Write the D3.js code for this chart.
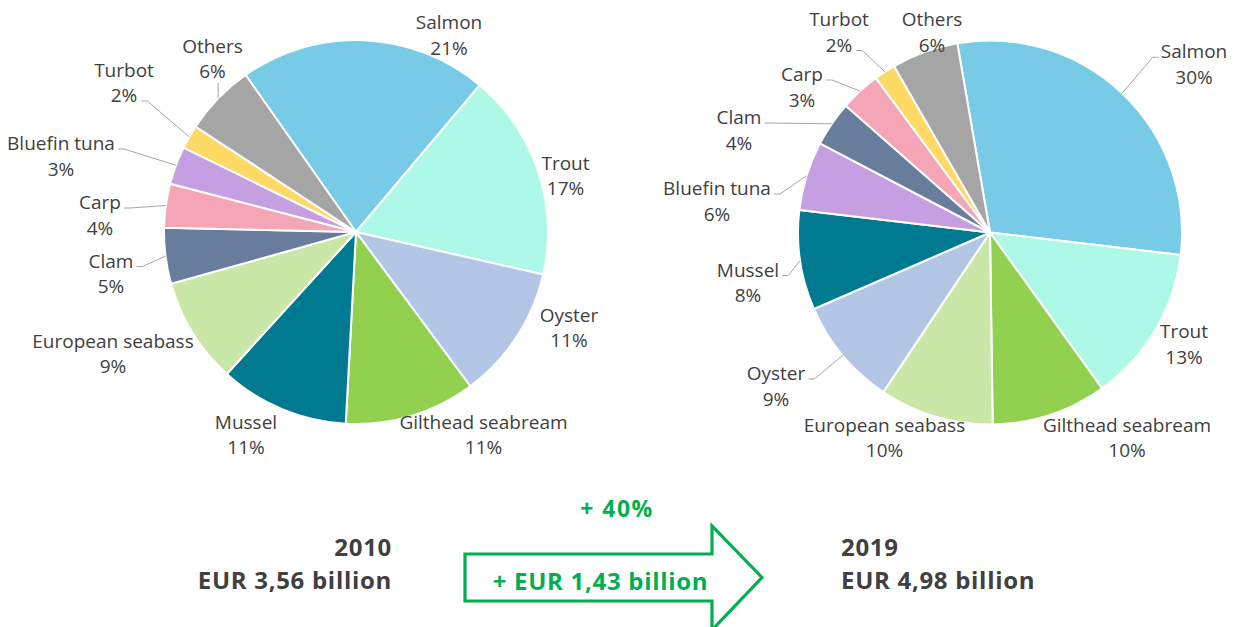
<!DOCTYPE html>
<html>
<head>
<meta charset="utf-8">
<script src="https://cdn.jsdelivr.net/npm/d3@7"></script>
<style>
  html, body { margin: 0; padding: 0; background: #ffffff; }
  svg { display: block; }
  text { font-family: "Open Sans", "DejaVu Sans", sans-serif; }
</style>
</head>
<body>
<svg id="chart" width="1238" height="627"></svg>
<script>
// Aquaculture production value by species, share of total (%)
const categories2010 = ["Salmon", "Trout", "Oyster", "Gilthead seabream", "Mussel",
  "European seabass", "Clam", "Carp", "Bluefin tuna", "Turbot", "Others"];
const values2010 = [20.9, 17.4, 11.3, 11.0, 10.9, 8.9, 4.7, 3.7, 3.2, 2.0, 6.0];

const categories2019 = ["Salmon", "Trout", "Gilthead seabream", "European seabass", "Oyster",
  "Mussel", "Bluefin tuna", "Clam", "Carp", "Turbot", "Others"];
const values2019 = [29.6, 13.2, 9.7, 9.6, 9.1, 8.4, 5.8, 3.8, 3.4, 1.8, 5.6];

// Totals and change
const years = ["2010", "2019"];
const totalLabels = ["EUR 3,56 billion", "EUR 4,98 billion"];
const changeLabels = ["+ 40%", "+ EUR 1,43 billion"];

const speciesColors = {
  "Salmon": "#77cbe6",
  "Trout": "#adf8e7",
  "Oyster": "#b3c6e6",
  "Gilthead seabream": "#92d050",
  "Mussel": "#007a91",
  "European seabass": "#c9e7a7",
  "Clam": "#687d9b",
  "Carp": "#f4a6b7",
  "Bluefin tuna": "#c69fe2",
  "Turbot": "#ffd966",
  "Others": "#a5a5a5"
};

// Label placement: x = centre of text, y = baseline of the first line,
// lead = where the leader line leaves the label (r1/r2: right of line 1/2, l1: left of line 1, b: below)
const labelLayout2010 = {
  "Salmon": { x: 449, y: 29 },
  "Trout": { x: 565.5, y: 169.5 },
  "Oyster": { x: 569, y: 321.5 },
  "Gilthead seabream": { x: 483.5, y: 428.5 },
  "Mussel": { x: 246, y: 428.5 },
  "European seabass": { x: 113, y: 347.5 },
  "Clam": { x: 111, y: 267.5, lead: "r1" },
  "Carp": { x: 100, y: 209, lead: "r1" },
  "Bluefin tuna": { x: 61, y: 150, lead: "r1" },
  "Turbot": { x: 124, y: 76.5, lead: "r2" },
  "Others": { x: 212.5, y: 52.5, lead: "b" }
};
const labelLayout2019 = {
  "Salmon": { x: 1194, y: 58.3, lead: "l1" },
  "Trout": { x: 1184, y: 338.3 },
  "Gilthead seabream": { x: 1127, y: 431.7 },
  "European seabass": { x: 884.5, y: 431.7 },
  "Oyster": { x: 776, y: 380, lead: "r1" },
  "Mussel": { x: 748, y: 276.7, lead: "r1" },
  "Bluefin tuna": { x: 717, y: 195, lead: "r1" },
  "Clam": { x: 739, y: 124, lead: "r1" },
  "Carp": { x: 802, y: 81, lead: "r1" },
  "Turbot": { x: 839, y: 26, lead: "r2" },
  "Others": { x: 932, y: 26 }
};

const svg = d3.select("#chart");
const radius = 192;
const lineGap = 25.5;
const labelColor = "#404040";
const deg = Math.PI / 180;

function drawPie(cx, cy, startDeg, categories, values, layout) {
  const data = categories.map((c, i) => ({ name: c, value: values[i] }));
  const total = d3.sum(values);
  const pie = d3.pie().sort(null).value(d => d.value)
    .startAngle(startDeg * deg).endAngle(startDeg * deg + 2 * Math.PI);
  const arc = d3.arc().innerRadius(0).outerRadius(radius);
  const arcs = pie(data);

  const g = svg.append("g").attr("transform", `translate(${cx},${cy})`);
  g.selectAll("path.slice").data(arcs).join("path")
    .attr("class", "slice")
    .attr("d", arc)
    .attr("fill", d => speciesColors[d.data.name])
    .attr("stroke", "#ffffff")
    .attr("stroke-width", 2)
    .attr("stroke-linejoin", "round");

  const labels = svg.append("g");
  arcs.forEach(a => {
    const spot = layout[a.data.name];
    const pct = Math.round(a.data.value / total * 100) + "%";
    const t = labels.append("text")
      .attr("text-anchor", "middle")
      .attr("fill", labelColor)
      .attr("font-size", 19);
    const l1 = t.append("tspan").attr("x", spot.x).attr("y", spot.y).text(a.data.name);
    const l2 = t.append("tspan").attr("x", spot.x).attr("y", spot.y + lineGap).text(pct);

    if (!spot.lead) return;
    const mid = (a.startAngle + a.endAngle) / 2;
    const edge = [cx + radius * Math.sin(mid), cy - radius * Math.cos(mid)];
    let pts;
    if (spot.lead === "r1") {
      const w = l1.node().getComputedTextLength();
      const s = [spot.x + w / 2 + 3, spot.y - 1];
      pts = [s, [s[0] + 6, s[1]], edge];
    } else if (spot.lead === "r2") {
      const w = l2.node().getComputedTextLength();
      const s = [spot.x + w / 2 + 4, spot.y + lineGap - 1];
      pts = [s, [s[0] + 6, s[1]], edge];
    } else if (spot.lead === "l1") {
      const w = l1.node().getComputedTextLength();
      const s = [spot.x - w / 2 - 2, spot.y - 1];
      pts = [s, [s[0] - 6, s[1]], edge];
    } else {
      pts = [[edge[0], spot.y + lineGap + 5], edge];
    }
    labels.insert("path", "text")
      .attr("d", d3.line()(pts))
      .attr("fill", "none")
      .attr("stroke", "#a6a6a6")
      .attr("stroke-width", 1);
  });
}

drawPie(356, 232, -35.1, categories2010, values2010, labelLayout2010);
drawPie(990, 232.5, -9.8, categories2019, values2019, labelLayout2019);

// Totals below each pie
function boldText(x, y, anchor, size, color, str) {
  return svg.append("text").attr("x", x).attr("y", y).attr("text-anchor", anchor)
    .attr("font-weight", 700).attr("font-size", size).attr("fill", color)
    .attr("letter-spacing", 0.7)
    .text(str);
}
const totalsColor = "#404040";
boldText(392, 556, "end", 24, totalsColor, years[0]);
boldText(392, 589, "end", 24, totalsColor, totalLabels[0]);
boldText(841, 556, "start", 24, totalsColor, years[1]);
boldText(841, 589, "start", 24, totalsColor, totalLabels[1]);

// Growth arrow
const green = "#00b050";
const arrow = { x0: 465, x1: 712, tip: 762, bodyTop: 554, bodyBottom: 601, headTop: 526, headBottom: 630 };
const midY = (arrow.bodyTop + arrow.bodyBottom) / 2;
svg.append("path")
  .attr("d", d3.line()([
    [arrow.x0, arrow.bodyTop], [arrow.x1, arrow.bodyTop], [arrow.x1, arrow.headTop],
    [arrow.tip, midY], [arrow.x1, arrow.headBottom], [arrow.x1, arrow.bodyBottom],
    [arrow.x0, arrow.bodyBottom]
  ]) + "Z")
  .attr("fill", "none")
  .attr("stroke", green)
  .attr("stroke-width", 3.2)
  .attr("stroke-linejoin", "miter");

boldText(617, 516.5, "middle", 23, green, changeLabels[0]).attr("letter-spacing", 1.5);
boldText(600.5, 590, "middle", 24, green, changeLabels[1]);
</script>
</body>
</html>
